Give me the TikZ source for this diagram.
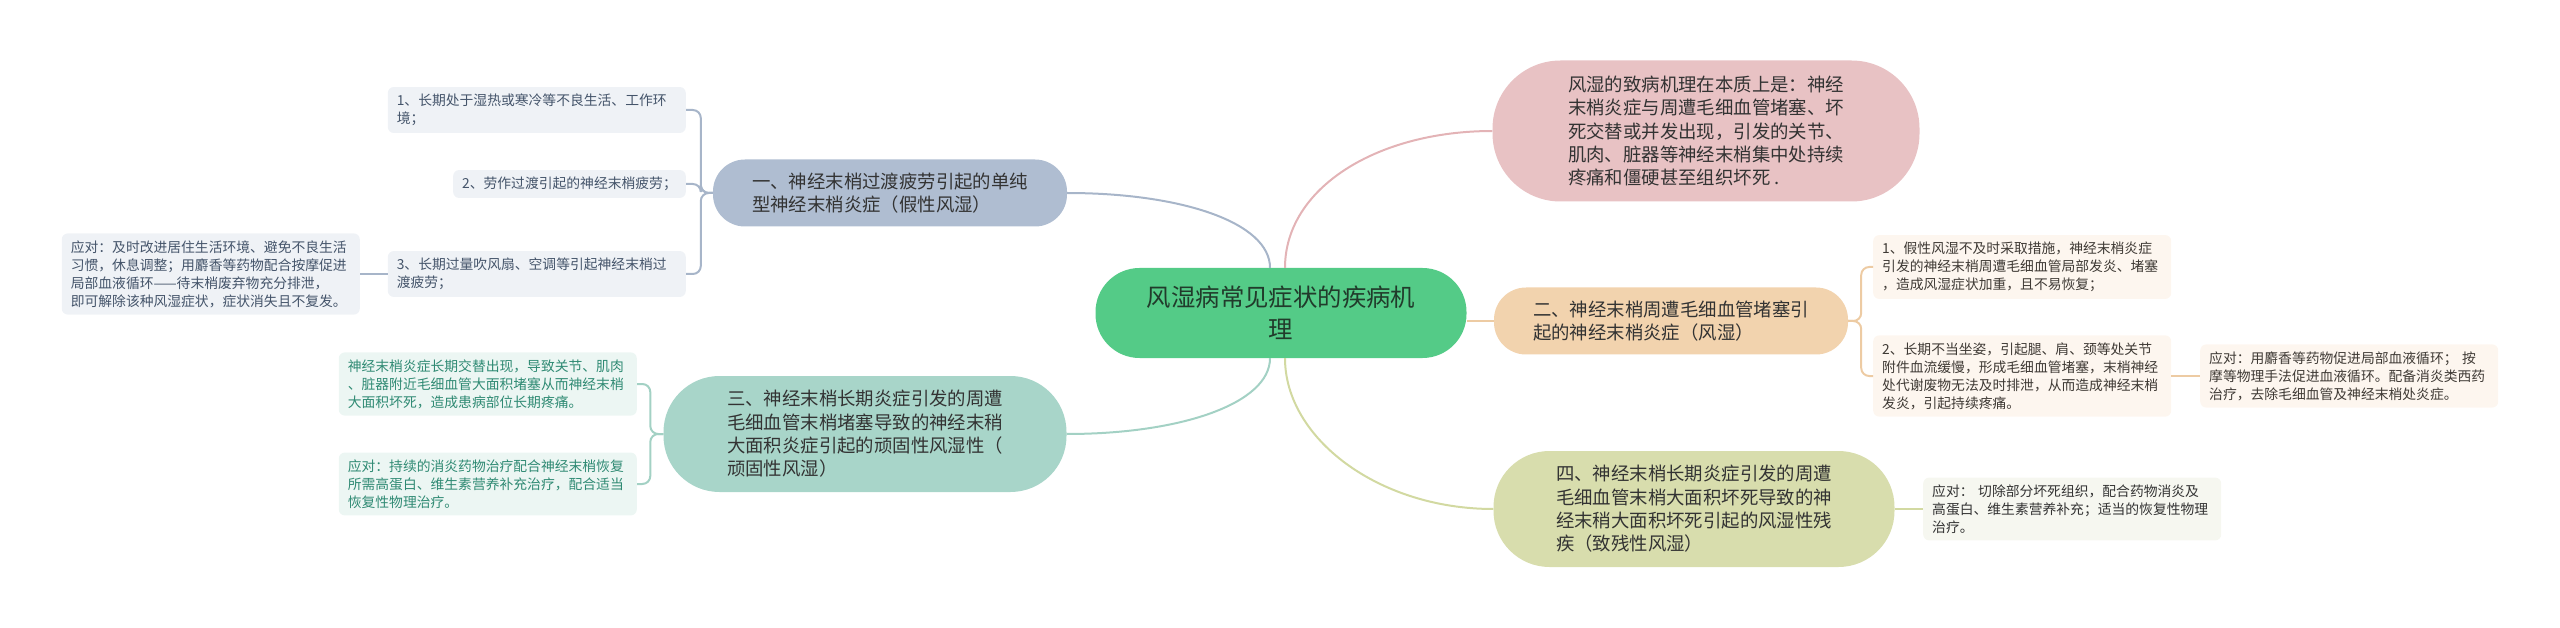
\documentclass[tikz,border=0pt]{standalone}
\usepackage{fontspec}
\setmainfont{Noto Sans CJK SC}
\usepackage{xcolor}
\usepackage{tikz}
\usetikzlibrary{positioning,calc}
\definecolor{rootGreen}{HTML}{54CB87}
\definecolor{rootText}{HTML}{213B2B}
\definecolor{topicBlue}{HTML}{AFBDD1}
\definecolor{topicPink}{HTML}{E8C2C4}
\definecolor{topicOrange}{HTML}{F2D3AE}
\definecolor{topicTeal}{HTML}{A8D5C9}
\definecolor{topicOlive}{HTML}{D8DDAD}
\definecolor{topicText}{HTML}{333333}
\definecolor{leafBlue}{HTML}{EFF2F6}
\definecolor{leafBlueText}{HTML}{44546A}
\definecolor{leafTeal}{HTML}{ECF6F3}
\definecolor{leafTealText}{HTML}{2F8A73}
\definecolor{leafOrange}{HTML}{FDF6EF}
\definecolor{leafOrangeText}{HTML}{3F3A35}
\definecolor{leafOlive}{HTML}{F6F7F0}
\definecolor{lineBlue}{HTML}{A7B5C9}
\definecolor{linePink}{HTML}{E3B3B6}
\definecolor{lineOrange}{HTML}{EDCBA3}
\definecolor{lineTeal}{HTML}{A3D1C4}
\definecolor{lineOlive}{HTML}{D2D9A1}

\begin{document}
\begin{tikzpicture}[x=1pt, y=-1pt,
  root/.style={fill=rootGreen,text=rootText,rounded corners=44pt,minimum width=371pt,minimum height=90pt,
    align=center,font=\fontsize{24.4}{31.7}\selectfont},
  topic/.style={text=topicText,align=left,font=\fontsize{18.4}{23.3}\selectfont},
  leaf/.style={rounded corners=6pt,align=left,inner xsep=9pt,inner ysep=7pt,font=\fontsize{13.8}{18}\selectfont},
  leafw/.style={leaf,text width=280pt},
  link/.style={line width=2pt}]
\useasboundingbox (0,0) rectangle (2560,628);
% --- root and main topics ---
\node[root] (root) at (1281,313) {风湿病常见症状的疾病机\\理};
\node[topic,fill=topicPink,minimum width=427pt,minimum height=141pt,rounded corners=68pt] (cause) at (1706,131)
 {风湿的致病机理在本质上是：神经\\末梢炎症与周遭毛细血管堵塞、坏\\死交替或并发出现，引发的关节、\\肌肉、脏器等神经末梢集中处持续\\疼痛和僵硬甚至组织坏死 .};
\node[topic,fill=topicBlue,minimum width=354pt,minimum height=67pt,rounded corners=32pt] (fake) at (890,193)
 {一、神经末梢过渡疲劳引起的单纯\\型神经末梢炎症（假性风湿）};
\node[topic,fill=topicOrange,minimum width=354pt,minimum height=67pt,rounded corners=32pt] (real) at (1671,321)
 {二、神经末梢周遭毛细血管堵塞引\\起的神经末梢炎症（风湿）};
\node[topic,fill=topicTeal,minimum width=403pt,minimum height=116pt,rounded corners=56pt] (stub) at (865,434)
 {三、神经末梢长期炎症引发的周遭\\毛细血管末梢堵塞导致的神经末稍\\大面积炎症引起的顽固性风湿性（\\顽固性风湿）};
\node[topic,fill=topicOlive,minimum width=401pt,minimum height=116pt,rounded corners=56pt] (crip) at (1694,509)
 {四、神经末梢长期炎症引发的周遭\\毛细血管末梢大面积坏死导致的神\\经末稍大面积坏死引起的风湿性残\\疾（致残性风湿）};
% --- leaves of topic one ---
\node[leafw,fill=leafBlue,text=leafBlueText,anchor=east] (fake1) at (686,110)
 {1、长期处于湿热或寒冷等不良生活、工作环\\境；};
\node[leaf,fill=leafBlue,text=leafBlueText,anchor=east] (fake2) at (686,184)
 {2、劳作过渡引起的神经末梢疲劳；};
\node[leafw,fill=leafBlue,text=leafBlueText,anchor=east] (fake3) at (686,274)
 {3、长期过量吹风扇、空调等引起神经末梢过\\渡疲劳；};
\node[leafw,fill=leafBlue,text=leafBlueText,anchor=east] (fake3a) at (360,274)
 {应对：及时改进居住生活环境、避免不良生活\\习惯，休息调整；用麝香等药物配合按摩促进\\局部血液循环——待末梢废弃物充分排泄，\\即可解除该种风湿症状，症状消失且不复发。};
% --- leaves of topic three ---
\node[leafw,fill=leafTeal,text=leafTealText,anchor=east] (stub1) at (637,384)
 {神经末梢炎症长期交替出现，导致关节、肌肉\\、脏器附近毛细血管大面积堵塞从而神经末梢\\大面积坏死，造成患病部位长期疼痛。};
\node[leafw,fill=leafTeal,text=leafTealText,anchor=east] (stub2) at (637,484)
 {应对：持续的消炎药物治疗配合神经末梢恢复\\所需高蛋白、维生素营养补充治疗，配合适当\\恢复性物理治疗。};
% --- leaves of topic two ---
\node[leafw,fill=leafOrange,text=leafOrangeText,anchor=west] (real1) at (1873,267)
 {1、假性风湿不及时采取措施，神经末梢炎症\\引发的神经末梢周遭毛细血管局部发炎、堵塞\\，造成风湿症状加重，且不易恢复；};
\node[leafw,fill=leafOrange,text=leafOrangeText,anchor=west] (real2) at (1873,376)
 {2、长期不当坐姿，引起腿、肩、颈等处关节\\附件血流缓慢，形成毛细血管堵塞，末梢神经\\处代谢废物无法及时排泄，从而造成神经末梢\\发炎，引起持续疼痛。};
\node[leafw,fill=leafOrange,text=leafOrangeText,anchor=west] (real2a) at (2200,376)
 {应对：用麝香等药物促进局部血液循环； 按\\摩等物理手法促进血液循环。配备消炎类西药\\治疗，去除毛细血管及神经末梢处炎症。};
% --- leaf of topic four ---
\node[leafw,fill=leafOlive,text=topicText,anchor=west] (crip1) at (1923,509)
 {应对： 切除部分坏死组织，配合药物消炎及\\高蛋白、维生素营养补充；适当的恢复性物理\\治疗。};
% --- root links ---
\draw[link,lineBlue] ([xshift=-11pt]root.north) .. controls +(0,-45) and +(115,0) .. (fake.east);
\draw[link,linePink] ([xshift=4pt]root.north) .. controls +(0,-80) and +(-115,0) .. (cause.west);
\draw[link,lineOrange] (real.west -| root.east) -- (real.west);
\draw[link,lineTeal] ([xshift=-11pt]root.south) .. controls +(0,45) and +(115,0) .. (stub.east);
\draw[link,lineOlive] ([xshift=4pt]root.south) .. controls +(0,80) and +(-115,0) .. (crip.west);
% --- brackets to leaves ---
\foreach \leafname in {fake1,fake2,fake3}
  \draw[link,lineBlue,rounded corners=8pt] (fake.west) -- ++(-12,0) |- (\leafname.east);
\draw[link,lineBlue] (fake3.west) -- (fake3a.east);
\foreach \leafname in {stub1,stub2}
  \draw[link,lineTeal,rounded corners=8pt] (stub.west) -- ++(-13,0) |- (\leafname.east);
\foreach \leafname in {real1,real2}
  \draw[link,lineOrange,rounded corners=8pt] (real.east) -- ++(13,0) |- (\leafname.west);
\draw[link,lineOrange] (real2.east) -- (real2a.west);
\draw[link,lineOlive] (crip.east) -- (crip1.west);
\end{tikzpicture}
\end{document}
